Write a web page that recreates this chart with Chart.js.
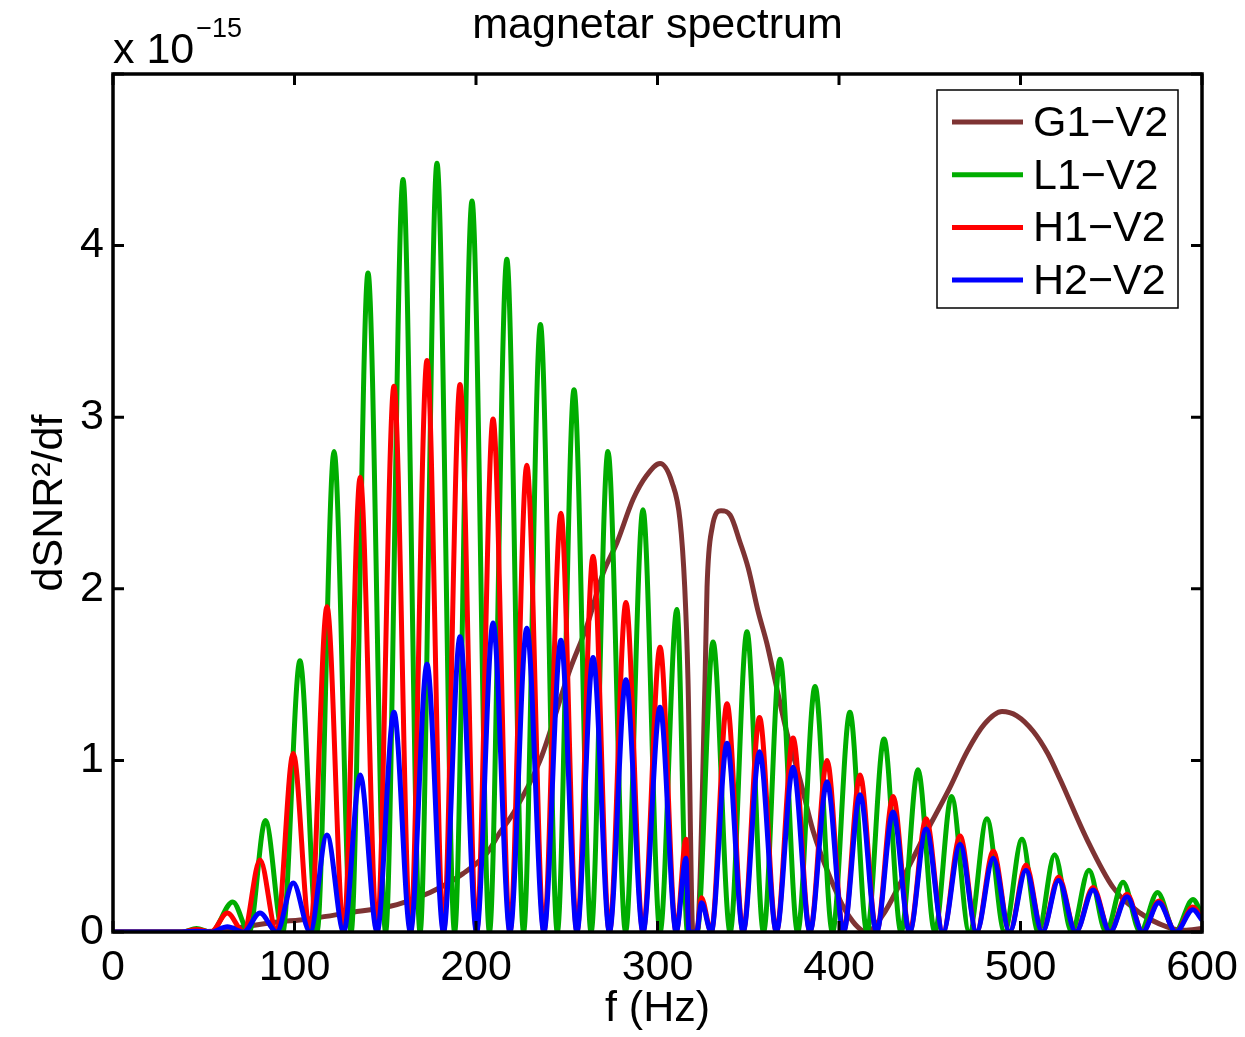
<!DOCTYPE html>
<html>
<head>
<meta charset="utf-8">
<title>magnetar spectrum</title>
<script src="https://cdn.jsdelivr.net/npm/chart.js@4.4.1/dist/chart.umd.min.js"></script>
<style>
  html, body { margin: 0; padding: 0; background: #fff; }
  #wrap { width: 1245px; height: 1037px; }
</style>
</head>
<body>
<div id="wrap"><canvas id="chart" width="1245" height="1037"></canvas></div>
<script>
// valores (unidades de 1e-15)
const xTicks = [0, 100, 200, 300, 400, 500, 600];
const yTicks = [0, 1, 2, 3, 4, 5];
const seriesNames = ['G1\u2212V2', 'L1\u2212V2', 'H1\u2212V2', 'H2\u2212V2'];
const seriesColors = ['#7e3333', '#00ad00', '#ff0000', '#0000ff'];

// G1-V2
const g1Freq = [0, 40, 55, 71.6, 92, 103, 129, 156.5, 174.7, 192.8, 206, 213.2, 220.4, 235.3, 251.8,
  261, 270, 277.7, 286.5, 294, 301.4, 308, 312.4, 315, 316.8, 319.5, 321.8, 326.2, 327.3, 330,
  335, 340, 345.5, 350, 355.4, 360.3, 364.7, 371.3, 378.5, 385.7, 395, 404.4, 415.4, 424.2,
  433.6, 447, 461, 470.5, 480, 489.8, 498, 507, 515, 521.8, 536.6, 551, 566, 580.7, 590, 600];
const g1Vals = [0, 0, 0.005, 0.03, 0.06, 0.07, 0.11, 0.16, 0.23, 0.34, 0.46, 0.58, 0.69, 1.0, 1.53,
  1.78, 2.09, 2.27, 2.52, 2.66, 2.73, 2.62, 2.40, 2.01, 1.47, 0, 0, 1.47, 2.01, 2.35,
  2.455, 2.43, 2.27, 2.12, 1.87, 1.68, 1.47, 1.16, 0.89, 0.59, 0.32, 0.11, 0, 0.10,
  0.28, 0.56, 0.84, 1.05, 1.21, 1.285, 1.26, 1.17, 1.04, 0.89, 0.54, 0.26, 0.11, 0.03, 0.01, 0.02];

// L1-V2
const l1Freq = [0, 38, 46, 54, 66, 75, 84, 93.5, 103, 112.4, 121.8, 131.2, 140.5, 150.2, 159.8,
  169.2, 178.5, 188.2, 197.8, 207.4, 217, 226.2, 235.5, 244.8, 254, 263.4, 272.7, 282.4, 292,
  301.4, 310.7, 316.5, 321.8, 330.6, 340, 349.3, 358.4, 367.5, 377.2, 386.8, 396.4, 406, 415.4,
  424.8, 434.2, 443.5, 452.8, 462, 471.8, 481.5, 491.2, 500.8, 509.8, 518.8, 528.2, 537.7,
  547.1, 556.5, 566, 575.5, 585.2, 595, 600];
const l1Vals = [0, 0, 0.02, 0, 0.175, 0, 0.65, 0, 1.58, 0, 2.80, 0, 3.84, 0, 4.385,
  0, 4.48, 0, 4.26, 0, 3.92, 0, 3.54, 0, 3.16, 0, 2.80, 0, 2.46,
  0, 1.88, 0, 0, 1.69, 0, 1.75, 0, 1.59, 0, 1.43, 0, 1.28, 0,
  1.125, 0, 0.945, 0, 0.79, 0, 0.66, 0, 0.54, 0, 0.45, 0, 0.36,
  0, 0.29, 0, 0.23, 0, 0.19, 0.10];

// H1-V2 y H2-V2 comparten frecuencias
const hFreq = [0, 38, 46, 54, 63, 72, 81, 90.2, 99.3, 108.6, 117.9, 127.1, 136.2, 145.5, 154.8,
  163.9, 173, 182.1, 191.2, 200.3, 209.4, 218.7, 228, 237.4, 246.8, 255.6, 264.5, 273.5, 282.6,
  292, 301.4, 310.3, 315.7, 317.3, 321.6, 324.2, 329.6, 338.3, 347.2, 356.2, 365.5, 374.7, 384,
  393.4, 402.5, 411.6, 420.7, 429.8, 438.9, 448, 457.3, 466.7, 475.8, 485, 494, 503, 512, 521,
  530.5, 540, 549.3, 558.7, 567.3, 576.2, 585.6, 595, 600];
const h1Vals = [0, 0, 0.015, 0, 0.11, 0, 0.42, 0, 1.04, 0, 1.895, 0, 2.65, 0, 3.18,
  0, 3.33, 0, 3.19, 0, 2.99, 0, 2.72, 0, 2.44, 0, 2.19, 0, 1.92,
  0, 1.66, 0, 0.54, 0, 0, 0.20, 0, 1.33, 0, 1.25, 0, 1.13, 0,
  1.0, 0, 0.915, 0, 0.79, 0, 0.66, 0, 0.56, 0, 0.47, 0, 0.39, 0, 0.32,
  0, 0.26, 0, 0.22, 0, 0.18, 0, 0.145, 0.08];
const h2Vals = [0, 0, 0.005, 0, 0.03, 0, 0.11, 0, 0.285, 0, 0.565, 0, 0.915, 0, 1.28,
  0, 1.56, 0, 1.72, 0, 1.80, 0, 1.77, 0, 1.70, 0, 1.60, 0, 1.47,
  0, 1.31, 0, 0.43, 0, 0, 0.17, 0, 1.10, 0, 1.05, 0, 0.96, 0,
  0.875, 0, 0.80, 0, 0.70, 0, 0.60, 0, 0.51, 0, 0.43, 0, 0.36, 0, 0.30,
  0, 0.245, 0, 0.205, 0, 0.17, 0, 0.13, 0.07];

const FONT = '"Liberation Sans", Arial, Helvetica, sans-serif';
const toPoints = (xs, ys) => xs.map((x, i) => ({ x, y: ys[i] }));

function makeSet(i, xs, ys) {
  return {
    label: seriesNames[i],
    data: toPoints(xs, ys),
    borderColor: seriesColors[i],
    backgroundColor: seriesColors[i],
    borderWidth: 5,
    pointRadius: 0,
    fill: false,
    cubicInterpolationMode: 'monotone',
    order: 4 - i   // G1 abajo, H2 arriba (como en matlab)
  };
}

// fondo blanco + marco con ticks hacia dentro
const frame = {
  id: 'frame',
  beforeDraw(chart) {
    const { ctx } = chart;
    ctx.save();
    ctx.fillStyle = '#fff';
    ctx.fillRect(0, 0, chart.width, chart.height);
    ctx.restore();
  },
  afterDatasetsDraw(chart) {
    const { ctx, chartArea: a, scales: { x, y } } = chart;
    ctx.save();
    ctx.strokeStyle = '#000';
    ctx.lineWidth = 3.5;
    ctx.strokeRect(a.left, a.top, a.right - a.left, a.bottom - a.top);
    ctx.lineWidth = 3;
    ctx.beginPath();
    xTicks.forEach(v => {
      const px = x.getPixelForValue(v);
      ctx.moveTo(px, a.bottom); ctx.lineTo(px, a.bottom - 11);
      ctx.moveTo(px, a.top); ctx.lineTo(px, a.top + 11);
    });
    yTicks.forEach(v => {
      const py = y.getPixelForValue(v);
      ctx.moveTo(a.left, py); ctx.lineTo(a.left + 11, py);
      ctx.moveTo(a.right, py); ctx.lineTo(a.right - 11, py);
    });
    ctx.stroke();
    ctx.restore();
  },
  afterDraw(chart) {
    const { ctx, chartArea: a } = chart;
    ctx.save();
    ctx.fillStyle = '#000';
    // titulo
    ctx.font = `43px ${FONT}`;
    ctx.textAlign = 'center';
    ctx.textBaseline = 'alphabetic';
    ctx.fillText('magnetar spectrum', (a.left + a.right) / 2, 38);
    // exponente
    ctx.textAlign = 'left';
    ctx.fillText('x 10', a.left, 63);
    const w = ctx.measureText('x 10').width;
    ctx.font = `27px ${FONT}`;
    ctx.fillText('\u221215', a.left + w + 2, 37);

    // leyenda
    const bx = 937, by = 90, bw = 241, bh = 218;
    ctx.fillStyle = '#fff';
    ctx.fillRect(bx, by, bw, bh);
    ctx.strokeStyle = '#000';
    ctx.lineWidth = 1.5;
    ctx.strokeRect(bx, by, bw, bh);
    ctx.font = `43px ${FONT}`;
    ctx.textBaseline = 'middle';
    seriesNames.forEach((name, i) => {
      const ly = 122 + i * 52.7;
      ctx.strokeStyle = seriesColors[i];
      ctx.lineWidth = 5;
      ctx.beginPath();
      ctx.moveTo(952, ly); ctx.lineTo(1023, ly);
      ctx.stroke();
      ctx.fillStyle = '#000';
      ctx.fillText(name, 1033, ly + 2);
    });
    ctx.restore();
  }
};

new Chart(document.getElementById('chart'), {
  type: 'line',
  data: {
    datasets: [
      makeSet(0, g1Freq, g1Vals),
      makeSet(1, l1Freq, l1Vals),
      makeSet(2, hFreq, h1Vals),
      makeSet(3, hFreq, h2Vals)
    ]
  },
  options: {
    responsive: false,
    animation: false,
    devicePixelRatio: 1,
    layout: { padding: { top: 74, right: 43, bottom: 0, left: 0 } },
    plugins: { legend: { display: false }, tooltip: { enabled: false }, title: { display: false } },
    scales: {
      x: {
        type: 'linear',
        min: 0, max: 600,
        grid: { display: false, drawTicks: false },
        border: { display: false },
        ticks: {
          stepSize: 100, padding: 10, color: '#000',
          font: { family: FONT, size: 43 }, maxRotation: 0
        },
        title: {
          display: true, text: 'f (Hz)', color: '#000',
          font: { family: FONT, size: 43 }, padding: { top: 0, bottom: 2 }
        },
        afterFit(scale) { scale.height = 105; scale.paddingLeft = 0; scale.paddingRight = 0; }
      },
      y: {
        min: 0, max: 5,
        grid: { display: false, drawTicks: false },
        border: { display: false },
        ticks: {
          stepSize: 1, padding: 9, color: '#000',
          font: { family: FONT, size: 43 },
          callback: v => (v === 5 ? '' : v)
        },
        title: {
          display: true, text: 'dSNR\u00b2/df', color: '#000',
          font: { family: FONT, size: 43 }, padding: { top: 24, bottom: 0 }
        },
        afterFit(scale) { scale.width = 113; scale.paddingTop = 0; scale.paddingBottom = 0; }
      }
    }
  },
  plugins: [frame]
});
</script>
</body>
</html>
